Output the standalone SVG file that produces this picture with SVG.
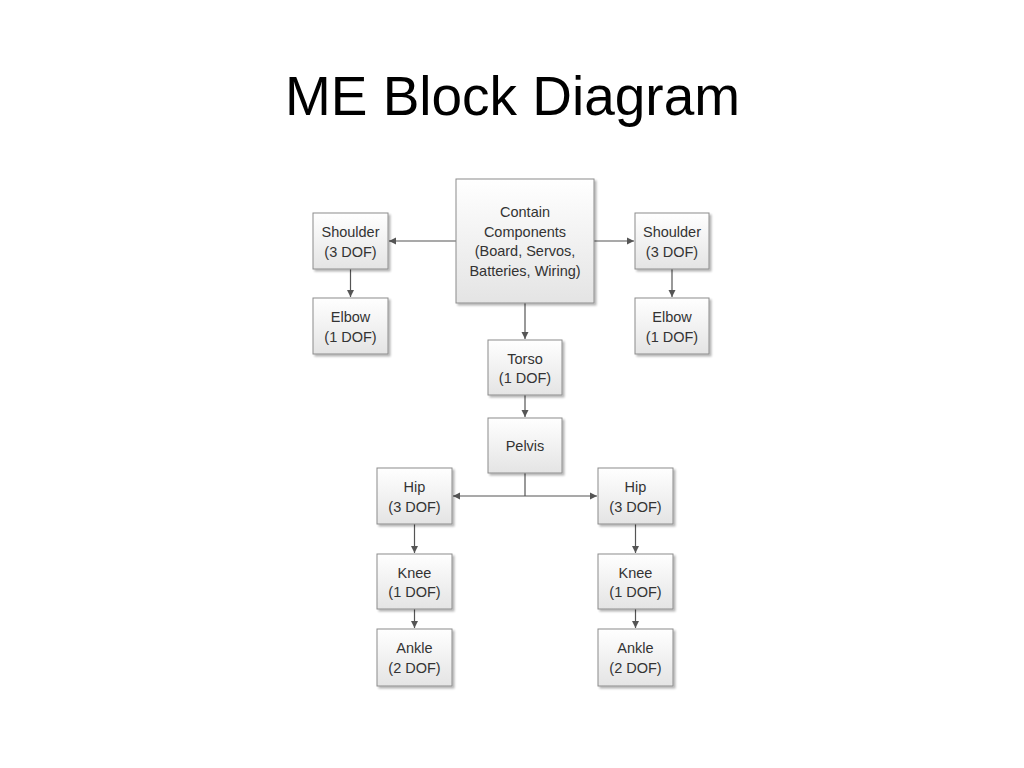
<svg xmlns="http://www.w3.org/2000/svg" width="1024" height="768" viewBox="0 0 1024 768">
<defs>
<linearGradient id="g" x1="0" y1="0" x2="0" y2="1">
<stop offset="0" stop-color="#ffffff"/>
<stop offset="1" stop-color="#e4e4e4"/>
</linearGradient>
<filter id="sh" x="-10%" y="-10%" width="130%" height="130%">
<feGaussianBlur in="SourceAlpha" stdDeviation="1"/>
<feOffset dx="1.5" dy="1.5" result="b"/>
<feComponentTransfer><feFuncA type="linear" slope="0.3"/></feComponentTransfer>
<feMerge><feMergeNode/><feMergeNode in="SourceGraphic"/></feMerge>
</filter>
<marker id="ah" markerWidth="8" markerHeight="8" refX="7" refY="4" orient="auto" markerUnits="userSpaceOnUse">
<path d="M0,0.5 L7,4 L0,7.5 Z" fill="#555555"/>
</marker>
</defs>
<style>
.box{fill:url(#g);stroke:#8c8c8c;stroke-width:1;filter:url(#sh)}
.t{font-family:"Liberation Sans",Arial,sans-serif;font-size:14.5px;fill:#333333;text-anchor:middle}
.c{stroke:#555555;stroke-width:1.2;fill:none}
.title{font-family:"Liberation Sans",Arial,sans-serif;font-size:56px;fill:#000000;text-anchor:middle}
</style>
<rect width="1024" height="768" fill="#ffffff"/>
<text class="title" x="512.5" y="115" textLength="455" lengthAdjust="spacingAndGlyphs">ME Block Diagram</text>

<g id="connectors">
<line class="c" x1="456" y1="241" x2="389" y2="241" marker-end="url(#ah)"/>
<line class="c" x1="594" y1="241" x2="634" y2="241" marker-end="url(#ah)"/>
<line class="c" x1="350.5" y1="269" x2="350.5" y2="297" marker-end="url(#ah)"/>
<line class="c" x1="672" y1="269" x2="672" y2="297" marker-end="url(#ah)"/>
<line class="c" x1="525" y1="303" x2="525" y2="339" marker-end="url(#ah)"/>
<line class="c" x1="525" y1="395" x2="525" y2="417" marker-end="url(#ah)"/>
<line class="c" x1="525" y1="473" x2="525" y2="496"/>
<line class="c" x1="525" y1="496" x2="453" y2="496" marker-end="url(#ah)"/>
<line class="c" x1="525" y1="496" x2="597" y2="496" marker-end="url(#ah)"/>
<line class="c" x1="414.5" y1="524" x2="414.5" y2="553" marker-end="url(#ah)"/>
<line class="c" x1="414.5" y1="609" x2="414.5" y2="628" marker-end="url(#ah)"/>
<line class="c" x1="635.5" y1="524" x2="635.5" y2="553" marker-end="url(#ah)"/>
<line class="c" x1="635.5" y1="609" x2="635.5" y2="628" marker-end="url(#ah)"/>
</g>

<g id="contain">
<rect class="box" x="456" y="179" width="138" height="124"/>
<text class="t" x="525" y="217">Contain</text>
<text class="t" x="525" y="236.5">Components</text>
<text class="t" x="525" y="256">(Board, Servos,</text>
<text class="t" x="525" y="275.5">Batteries, Wiring)</text>
</g>
<g id="shoulder-left">
<rect class="box" x="313" y="213" width="75" height="56"/>
<text class="t" x="350.5" y="237">Shoulder</text>
<text class="t" x="350.5" y="256.5">(3 DOF)</text>
</g>
<g id="elbow-left">
<rect class="box" x="313" y="298" width="75" height="56"/>
<text class="t" x="350.5" y="322">Elbow</text>
<text class="t" x="350.5" y="341.5">(1 DOF)</text>
</g>
<g id="shoulder-right">
<rect class="box" x="635" y="213" width="74" height="56"/>
<text class="t" x="672" y="237">Shoulder</text>
<text class="t" x="672" y="256.5">(3 DOF)</text>
</g>
<g id="elbow-right">
<rect class="box" x="635" y="298" width="74" height="56"/>
<text class="t" x="672" y="322">Elbow</text>
<text class="t" x="672" y="341.5">(1 DOF)</text>
</g>
<g id="torso">
<rect class="box" x="488" y="340" width="74" height="55"/>
<text class="t" x="525" y="363.5">Torso</text>
<text class="t" x="525" y="383">(1 DOF)</text>
</g>
<g id="pelvis">
<rect class="box" x="488" y="418" width="74" height="55"/>
<text class="t" x="525" y="451">Pelvis</text>
</g>
<g id="hip-left">
<rect class="box" x="377" y="468" width="75" height="56"/>
<text class="t" x="414.5" y="492">Hip</text>
<text class="t" x="414.5" y="511.5">(3 DOF)</text>
</g>
<g id="hip-right">
<rect class="box" x="598" y="468" width="75" height="56"/>
<text class="t" x="635.5" y="492">Hip</text>
<text class="t" x="635.5" y="511.5">(3 DOF)</text>
</g>
<g id="knee-left">
<rect class="box" x="377" y="554" width="75" height="55"/>
<text class="t" x="414.5" y="577.5">Knee</text>
<text class="t" x="414.5" y="597">(1 DOF)</text>
</g>
<g id="knee-right">
<rect class="box" x="598" y="554" width="75" height="55"/>
<text class="t" x="635.5" y="577.5">Knee</text>
<text class="t" x="635.5" y="597">(1 DOF)</text>
</g>
<g id="ankle-left">
<rect class="box" x="377" y="629" width="75" height="57"/>
<text class="t" x="414.5" y="653">Ankle</text>
<text class="t" x="414.5" y="672.5">(2 DOF)</text>
</g>
<g id="ankle-right">
<rect class="box" x="598" y="629" width="75" height="57"/>
<text class="t" x="635.5" y="653">Ankle</text>
<text class="t" x="635.5" y="672.5">(2 DOF)</text>
</g>
</svg>
